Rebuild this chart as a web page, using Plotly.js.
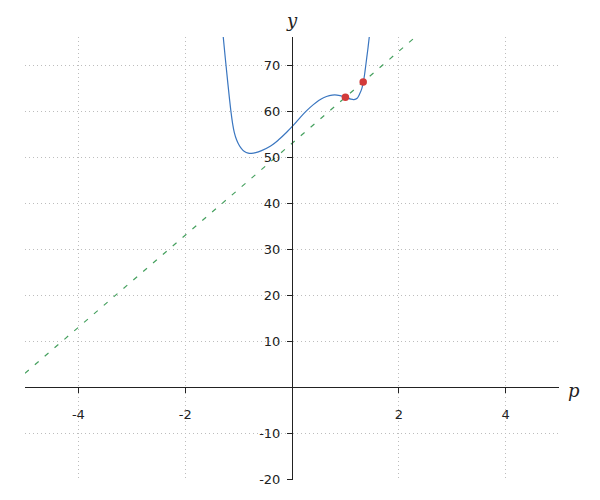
<!DOCTYPE html>
<html>
<head>
<meta charset="utf-8">
<script src="https://cdn.plot.ly/plotly-3.0.1.min.js"></script>
<style>html,body{margin:0;padding:0;background:#fff;}#chart{width:600px;height:500px;}</style>
</head>
<body>
<div id="chart"></div>
<script>
// Curve
var curveX = [-1.29, -1.25, -1.21, -1.17, -1.14, -1.11, -1.08, -1.04, -1.00, -0.95, -0.89, -0.82, -0.76, -0.68, -0.57, -0.40, -0.256, -0.10, 0.04, 0.16, 0.275, 0.40, 0.50, 0.59, 0.70, 0.80, 0.90, 1.01, 1.10, 1.16, 1.22, 1.27, 1.31, 1.336, 1.36, 1.38, 1.40, 1.425, 1.45];
var curveY = [76.4, 71.6, 67.0, 62.6, 59.6, 57.1, 55.3, 53.8, 52.8, 51.9, 51.2, 50.85, 50.8, 50.95, 51.4, 52.4, 53.7, 55.4, 57.1, 58.7, 60.1, 61.4, 62.3, 62.9, 63.35, 63.5, 63.35, 63.0, 62.6, 62.5, 62.8, 63.8, 65.0, 66.3, 68.0, 69.8, 71.6, 73.9, 76.4];
// Dashed secant line
var lineX = [-5, 2.31];
var lineY = [3, 76.1];
// Red points
var pointX = [1.0, 1.333];
var pointY = [63.0, 66.33];
// Ticks
var xTickVals = [-4, -2, 2, 4];
var xTickText = ['-4', '-2', '2', '4'];
var yTickVals = [-20, -10, 10, 20, 30, 40, 50, 60, 70];
var yTickText = ['-20', '-10', '10', '20', '30', '40', '50', '60', '70'];
var xRange = [-5, 5];
var yRange = [-20.2, 76.1];

var traces = [
  {x: lineX, y: lineY, mode: 'lines', line: {color: '#45a05e', width: 1.2, dash: '5px,8px'}, hoverinfo: 'skip'},
  {x: curveX, y: curveY, mode: 'lines', line: {color: '#3a76c0', width: 1.2, shape: 'spline', smoothing: 1}, hoverinfo: 'skip'},
  {x: pointX, y: pointY, mode: 'markers', marker: {color: '#d23a3a', size: 7.5}, hoverinfo: 'skip'}
];

var xPos = (0 - yRange[0]) / (yRange[1] - yRange[0]);
var yPos = (0 - xRange[0]) / (xRange[1] - xRange[0]);

var tickFont = {family: 'DejaVu Sans', size: 13, color: '#222'};
var layout = {
  width: 600, height: 500,
  margin: {l: 25, r: 41, t: 37, b: 20, pad: 0},
  paper_bgcolor: '#fff', plot_bgcolor: '#fff',
  showlegend: false,
  xaxis: {
    range: xRange, anchor: 'free', position: xPos,
    tickmode: 'array', tickvals: xTickVals, ticktext: xTickText,
    ticks: 'outside', ticklen: 5, tickcolor: '#222', tickwidth: 1,
    ticklabelstandoff: 10,
    showline: true, linecolor: '#222', linewidth: 1,
    showgrid: true, gridcolor: '#bdbdbd', griddash: '1px,3px', gridwidth: 1,
    zeroline: false, tickfont: tickFont, fixedrange: true
  },
  yaxis: {
    range: yRange, anchor: 'free', position: yPos,
    tickmode: 'array', tickvals: yTickVals, ticktext: yTickText,
    ticks: 'outside', ticklen: 5, tickcolor: '#222', tickwidth: 1,
    ticklabelstandoff: 4,
    showline: true, linecolor: '#222', linewidth: 1,
    showgrid: true, gridcolor: '#bdbdbd', griddash: '1px,3px', gridwidth: 1,
    zeroline: false, tickfont: tickFont, fixedrange: true
  },
  annotations: [
    {text: 'p', xref: 'paper', x: 1.013, yref: 'y', y: 0, xanchor: 'left', yanchor: 'middle', yshift: -3,
     showarrow: false, font: {family: 'DejaVu Serif', size: 18, color: '#222', style: 'italic'}},
    {text: 'y', xref: 'x', x: 0, yref: 'paper', y: 1, xanchor: 'center', yanchor: 'bottom', yshift: 4,
     showarrow: false, font: {family: 'DejaVu Serif', size: 18, color: '#222', style: 'italic'}}
  ]
};

Plotly.newPlot('chart', traces, layout, {displayModeBar: false, staticPlot: true});
</script>
</body>
</html>
